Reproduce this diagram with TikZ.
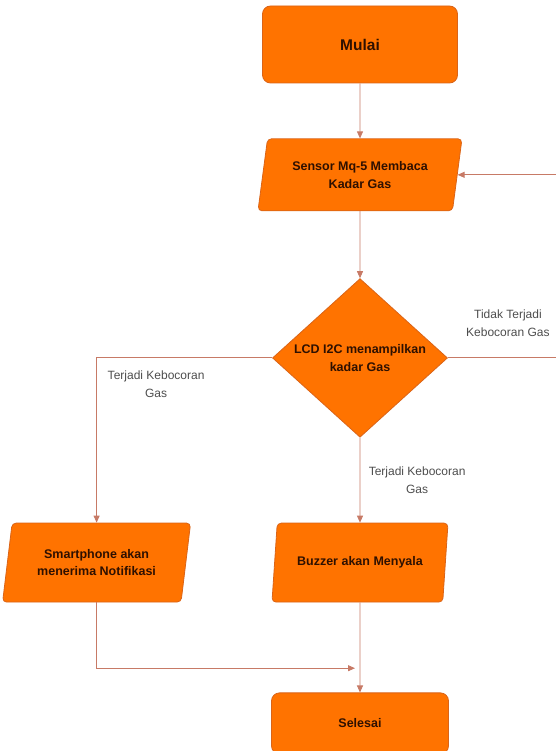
\documentclass[tikz,border=0pt]{standalone}
\usepackage{fontspec}
\setmainfont{Liberation Sans}
\usetikzlibrary{shapes.geometric, arrows.meta, positioning, calc}
\usepackage{xcolor}
\definecolor{boxfill}{HTML}{FF7300}
\definecolor{boxline}{HTML}{DA6418}
\definecolor{boxtext}{HTML}{2E1000}
\definecolor{flowline}{HTML}{C77A66}
\definecolor{labeltext}{HTML}{4D4D4D}
\tikzset{
    startstop/.style={
        rectangle, rounded corners=8pt, minimum width=195pt, minimum height=77pt,
        text centered, draw=boxline, fill=boxfill, line width=0.8pt,
        font=\fontsize{12.5}{17.5}\selectfont\bfseries, text=boxtext
    },
    io/.style={
        trapezium, trapezium left angle=74, trapezium right angle=106,
        trapezium stretches body, rounded corners=4pt, align=center,
        draw=boxline, fill=boxfill, line width=0.8pt,
        font=\fontsize{12.5}{17.5}\selectfont\bfseries, text=boxtext
    },
    decision/.style={
        diamond, minimum width=175pt, minimum height=156pt, inner sep=0pt,
        align=center, draw=boxline, fill=boxfill, line width=0.8pt,
        font=\fontsize{12.5}{17.5}\selectfont\bfseries, text=boxtext
    },
    arrow/.style={
        -{Triangle[length=7pt,width=6pt]}, line width=0.9pt, draw=flowline
    },
    caption/.style={
        align=center, font=\fontsize{12}{18}\selectfont, text=labeltext
    }
}

\begin{document}
\begin{tikzpicture}[node distance=55pt and 100pt]

    \useasboundingbox (0,0) rectangle (555pt,-751pt);

    \node[startstop, font=\fontsize{15.5}{18}\selectfont\bfseries] (start) at (360pt,-44.5pt) {Mulai};
    \node[io, minimum width=204pt, minimum height=72pt, below=55pt of start] (sensor) {Sensor Mq-5 Membaca\\Kadar Gas};
    \node[decision, below=67pt of sensor]                        (check)  {LCD I2C menampilkan\\kadar Gas};
    \node[io, minimum width=176pt, minimum height=79pt, below=85pt of check] (buzzer) {Buzzer akan Menyala};
    \node[io, minimum width=188pt, minimum height=79pt, left=88pt of buzzer] (phone) {Smartphone akan\\menerima Notifikasi};
    \node[startstop, minimum width=177pt, minimum height=61pt, below=90pt of buzzer] (finish) {Selesai};

    \coordinate (loop) at ($(check.east)+(120pt,0)$);
    \coordinate (merge) at ($(buzzer.south)!0.73!(finish.north)+(-5pt,0)$);

    \draw[arrow] (start)  -- (sensor);
    \draw[arrow] (sensor) -- (check);
    \draw[arrow] (check)  -- node[caption, right=5pt] {Terjadi Kebocoran\\Gas} (buzzer);
    \draw[arrow] (buzzer) -- (finish);
    \draw[arrow] (check.west) -| (phone.north);
    \draw[arrow] (check.east) -- node[caption, above=18pt] {Tidak Terjadi\\Kebocoran Gas} (loop) |- (sensor.east);
    \draw[arrow] (phone.south) |- (merge);

    \node[caption] (leftlabel) at ($(check.west)+(-116pt,-26pt)$) {Terjadi Kebocoran\\Gas};

\end{tikzpicture}
\end{document}
